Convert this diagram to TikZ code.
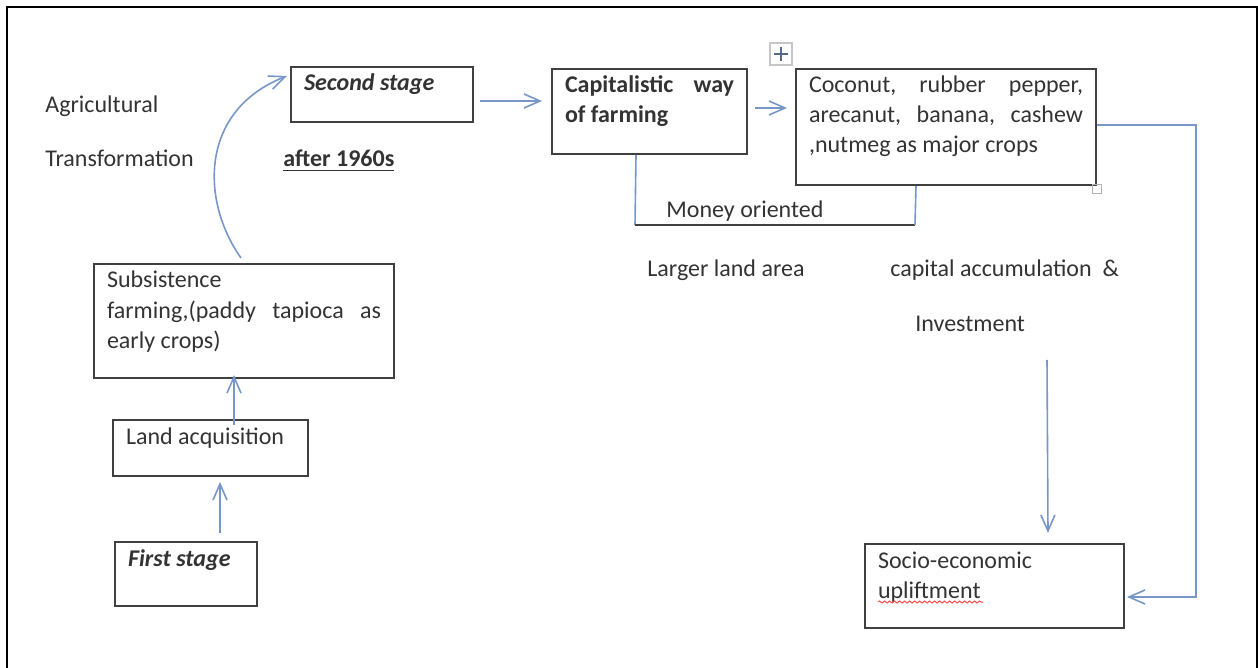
\documentclass[tikz,border=0pt]{standalone}
\usepackage{fontspec}
\setmainfont{Carlito}
\usetikzlibrary{arrows.meta,positioning,decorations.pathmorphing}
\definecolor{linkblue}{HTML}{7896C8}
\definecolor{boxgray}{HTML}{404040}
\definecolor{txtgray}{HTML}{333333}

\begin{document}
\begin{tikzpicture}[x=0.5pt,y=-0.5pt,
  box/.style={draw=boxgray,line width=1pt,anchor=north west,inner xsep=6.5pt,inner ysep=3pt,
    text height=9pt,align=justify,text=txtgray,font=\fontsize{12}{15}\selectfont},
  lbl/.style={anchor=base west,inner sep=0pt,text=txtgray,font=\fontsize{12}{15}\selectfont},
  link/.style={draw=linkblue,line width=0.8pt},
  arr/.style={link,-{Straight Barb[length=8pt,width=7pt]}}]
\useasboundingbox (0,0) rectangle (1258,668);
% outer frame, open at the bottom
\draw[line width=1.2pt] (7,668) -- (7,7) -- (1257,7) -- (1257,668);

% Boxes (pixel coordinates of the top left corner)
\node[box,text width=78pt,text depth=12.5pt] (second) at (290,66) {\textbf{\textit{Second stage}}};
\node[box,text width=84.5pt,text depth=27.5pt] (capital) at (551,68) {\textbf{Capitalistic\hfill way\break of farming}};
\node[box,text width=137pt,text depth=43pt] (crops) at (795,68) {Coconut,\hfill rubber\hfill pepper,\break arecanut,\hfill banana,\hfill cashew\break ,nutmeg as major crops};
\node[box,text width=137pt,text depth=42pt] (subsist) at (93,263) {Subsistence\hfill\break farming,(paddy\hfill tapioca\hfill as\break early crops)};
\node[box,text width=84.5pt,text depth=13pt] (land) at (112,419) {Land acquisition};
\node[box,text width=58pt,text depth=17pt] (first) at (114,541) {\textbf{\textit{First stage}}};
\node[box,text width=116.5pt,text depth=27pt] (uplift) at (864,543) {Socio-economic\hfill\break upliftment};

% Free labels
\node[lbl] (agri) at (45,113) {Agricultural};
\node[lbl] (transf) at (45,167) {Transformation};
\node[lbl] (after) at (283,167) {\textbf{\underline{after 1960s}}};
\node[lbl] (money) at (666,218) {Money oriented};
\node[lbl] (larger) at (647,277) {Larger land area};
\node[lbl] (capacc) at (890,277) {capital accumulation\ \ \&};
\node[lbl] (invest) at (915,331) {Investment};

% Word handles round the crops box
\node[draw=gray!45,line width=0.6pt,minimum size=11pt,inner sep=0pt] (movehandle) at (781,54) {};
\draw[linkblue!70!black,line width=0.8pt] ([shift={(0,-7)}]movehandle.center) -- ([shift={(0,7)}]movehandle.center);
\draw[linkblue!70!black,line width=0.8pt] ([shift={(-7,0)}]movehandle.center) -- ([shift={(7,0)}]movehandle.center);
\node[draw=gray!60,line width=0.8pt,minimum size=4.5pt,inner sep=0pt] (sizehandle) at (1097,189) {};

% spell check underline
\draw[red!70,line width=0.5pt,decorate,decoration={snake,amplitude=0.5pt,segment length=2.5pt}] (878,602) -- (983,602);

% Connectors
\draw[arr] ([shift={(34,-8)}]first.north) -- ([shift={(9.5,5)}]land.south);
\draw[arr] ([shift={(23.5,6)}]land.north) -- ([shift={(-10,-4)}]subsist.south);
\draw[arr] ([shift={(-3,-5)}]subsist.north) .. controls (200,200) and (200,110) .. ([shift={(-3,-18.5)}]second.west);
\draw[arr] ([shift={(6,6.5)}]second.east) -- ([shift={(-9,-10.5)}]capital.west);
\draw[arr] ([shift={(7,-3.5)}]capital.east) -- ([shift={(-8,-19)}]crops.west);

% Money oriented bracket
\coordinate (mo-l) at (635,225);
\coordinate (mo-r) at (915,225);
\draw[link] ([shift={(-13.5,0)}]capital.south) -- (mo-l);
\draw[boxgray,line width=1pt] (mo-l) -- (mo-r);
\draw[link] (mo-r) -- ([shift={(-30,0)}]crops.south);

% Down to the uplift box
\coordinate (invtop) at (1047,360);
\coordinate (rcorner) at (1196,400);
\draw[arr] (invtop) -- ([shift={(53.5,-10)}]uplift.north);
\draw[arr] ([shift={(0,-2)}]crops.east) -| (rcorner) |- ([shift={(2,11)}]uplift.east);
\end{tikzpicture}
\end{document}
